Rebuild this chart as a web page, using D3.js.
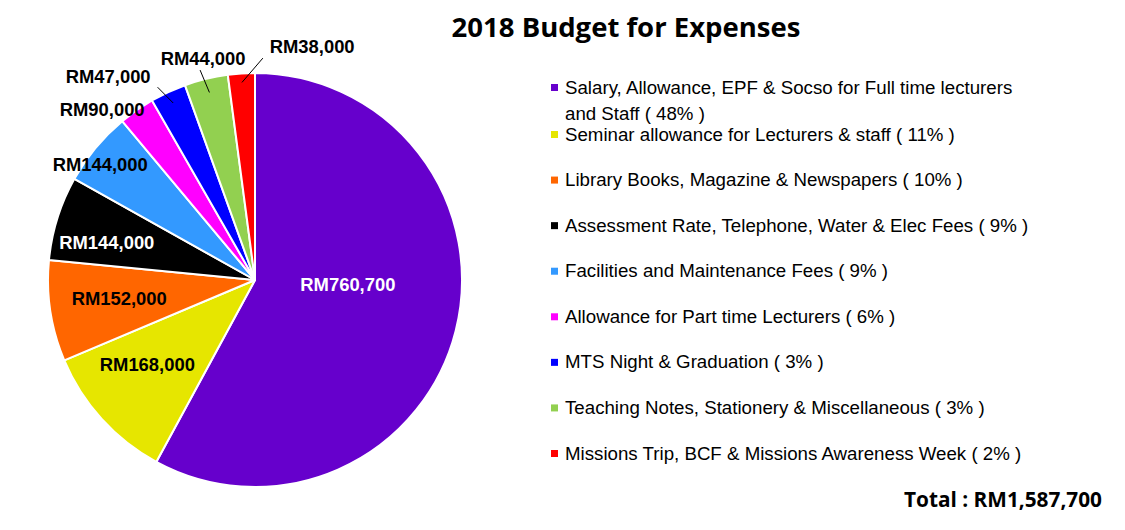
<!DOCTYPE html>
<html>
<head>
<meta charset="utf-8">
<script src="https://cdn.jsdelivr.net/npm/d3@7"></script>
<style>
  html, body { margin: 0; padding: 0; background: #fff; }
  svg { display: block; }
</style>
</head>
<body>
<svg id="chart" width="1125" height="530"></svg>
<script>
// ---- data ----
const categories = [
  "Salary, Allowance, EPF & Socso for Full time lecturers and Staff",
  "Seminar allowance for Lecturers & staff",
  "Library Books, Magazine & Newspapers",
  "Assessment Rate, Telephone, Water & Elec Fees",
  "Facilities and Maintenance Fees",
  "Allowance for Part time Lecturers",
  "MTS Night & Graduation",
  "Teaching Notes, Stationery & Miscellaneous",
  "Missions Trip, BCF & Missions Awareness Week"
];
const amounts = [760700, 168000, 152000, 144000, 144000, 90000, 47000, 44000, 38000];
const legendPercents = [48, 11, 10, 9, 9, 6, 3, 3, 2];
// slice shares as drawn in the picture (percent of the full circle)
const sliceShares = [58.0, 10.75, 7.9, 6.6, 5.8, 2.8, 2.8, 3.4, 2.1];
const colors = ["#6600CC", "#E6E600", "#FF6600", "#000000", "#3399FF", "#FF00FF", "#0000FF", "#92D050", "#FF0000"];
const labelColors = ["#fff", "#000", "#000", "#fff", "#000", "#000", "#000", "#000", "#000"];
const titleText = "2018 Budget for Expenses";
const totalText = "Total : RM1,587,700";

// ---- layout ----
const svg = d3.select("#chart");
const cx = 255, cy = 280, R = 207;
const fmt = d3.format(",");

svg.append("text")
  .attr("x", 626).attr("y", 37)
  .attr("text-anchor", "middle")
  .attr("font-family", "'Open Sans', 'Noto Sans', sans-serif")
  .attr("font-weight", "bold")
  .attr("font-size", 27.5)
  .attr("fill", "#000")
  .text(titleText);

const data = categories.map((c, i) => ({ name: c, amount: amounts[i], share: sliceShares[i], pct: legendPercents[i], color: colors[i], lc: labelColors[i] }));

const pie = d3.pie().sort(null).value(d => d.share);
const arcs = pie(data);
const arc = d3.arc().innerRadius(0).outerRadius(R);

const g = svg.append("g").attr("transform", `translate(${cx},${cy})`);
g.selectAll("path.slice").data(arcs).join("path")
  .attr("class", "slice")
  .attr("d", arc)
  .attr("fill", d => d.data.color)
  .attr("stroke", "#fff")
  .attr("stroke-width", 2)
  .attr("stroke-linejoin", "round");

// label placement: [radius, angle shift in degrees] relative to slice mid-angle
const labelPlace = [[93, -11.4], [137, 4], [137, 1], [153, -3], [193, -3], [229, -7], [251, -11], [228, 0.5], [241, 17.5]];
const leaderFrom = [null, null, null, null, null, null, [195, 0], [193, 0], [198, 0]];
const leaderTo = [null, null, null, null, null, null, [216, -2], [217, -1], [222, 5.8]];

function polar(r, deg) {
  const a = deg * Math.PI / 180;
  return [r * Math.sin(a), -r * Math.cos(a)];
}

arcs.forEach((a, i) => {
  const mid = (a.startAngle + a.endAngle) / 2 * 180 / Math.PI;
  const [r, sh] = labelPlace[i];
  const p = polar(r, mid + sh);
  if (leaderFrom[i]) {
    const p1 = polar(leaderFrom[i][0], mid + leaderFrom[i][1]);
    const p2 = polar(leaderTo[i][0], mid + leaderTo[i][1]);
    g.append("line")
      .attr("x1", p1[0]).attr("y1", p1[1]).attr("x2", p2[0]).attr("y2", p2[1])
      .attr("stroke", "#000").attr("stroke-width", 1);
  }
  g.append("text")
    .attr("x", p[0]).attr("y", p[1])
    .attr("dy", "0.36em")
    .attr("text-anchor", "middle")
    .attr("font-family", "'Liberation Sans', Arial, sans-serif")
    .attr("font-weight", "bold")
    .attr("font-size", 18.4)
    .attr("fill", a.data.lc)
    .text("RM" + fmt(a.data.amount));
});

// ---- legend ----
const legendX = 551, textX = 565, legendSize = 18.7;
const rowY = d3.scalePoint().domain(d3.range(1, categories.length)).range([134, 453]);
const lg = svg.append("g");
const legendFont = "'Liberation Sans', Arial, sans-serif";
data.forEach((d, i) => {
  const y = i === 0 ? 87 : rowY(i);
  lg.append("rect")
    .attr("x", legendX).attr("y", y - 3)
    .attr("width", 7).attr("height", 7)
    .attr("fill", d.color);
  if (i === 0) {
    lg.append("text").attr("x", textX).attr("y", y).attr("dy", "0.35em")
      .attr("font-family", legendFont).attr("font-size", legendSize).attr("fill", "#000")
      .text("Salary, Allowance, EPF & Socso for Full time lecturers");
    lg.append("text").attr("x", textX).attr("y", y + 26).attr("dy", "0.35em")
      .attr("font-family", legendFont).attr("font-size", legendSize).attr("fill", "#000")
      .text("and Staff ( " + d.pct + "% )");
  } else {
    lg.append("text").attr("x", textX).attr("y", y).attr("dy", "0.35em")
      .attr("font-family", legendFont).attr("font-size", legendSize).attr("fill", "#000")
      .text(d.name + " ( " + d.pct + "% )");
  }
});

svg.append("text")
  .attr("x", 1102).attr("y", 507)
  .attr("text-anchor", "end")
  .attr("font-family", "'Open Sans', 'Noto Sans', sans-serif")
  .attr("font-weight", "bold")
  .attr("font-size", 20.8)
  .attr("fill", "#000")
  .text(totalText);
</script>
</body>
</html>
